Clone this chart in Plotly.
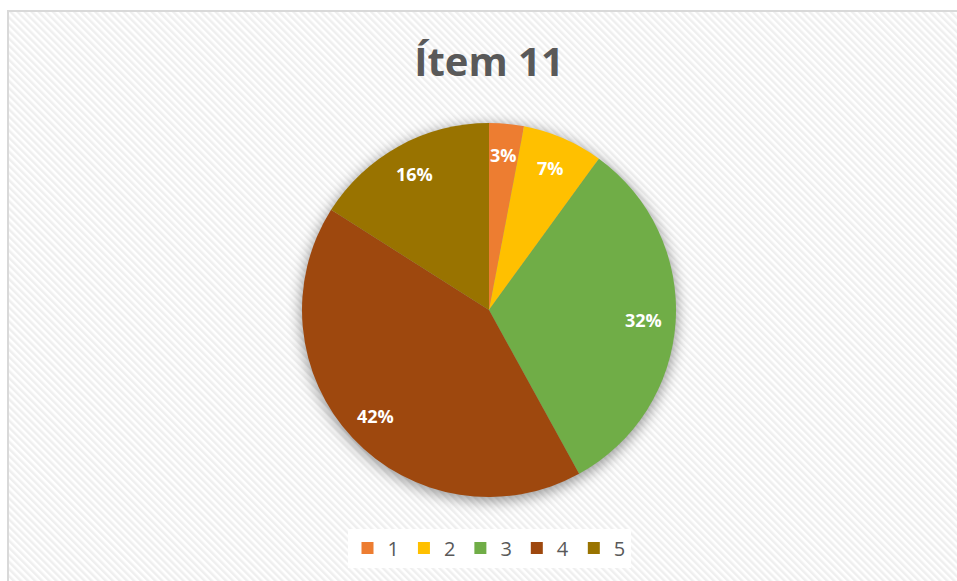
import base64
import math
import plotly.graph_objects as go

# Data
categories = ["1", "2", "3", "4", "5"]
values = [3, 7, 32, 42, 16]
colors = ["#ED7D31", "#FFC000", "#70AD47", "#9E480E", "#997300"]
title_text = "Ítem 11"

W, H = 957, 581
cx, cy, r = 489, 310, 187

# Hatched background
hatch_svg = f"""<svg xmlns='http://www.w3.org/2000/svg' width='{W-8}' height='{H-11}'>
<defs><pattern id='p' width='5' height='5' patternUnits='userSpaceOnUse' patternTransform='rotate(-45)'>
<rect width='5' height='5' fill='#ffffff'/><rect width='2.5' height='5' fill='#efefef'/></pattern></defs>
<rect width='100%' height='100%' fill='url(#p)'/>
</svg>"""
hatch_uri = "data:image/svg+xml;base64," + base64.b64encode(hatch_svg.encode()).decode()

shadow_svg = f"""<svg xmlns='http://www.w3.org/2000/svg' width='{W}' height='{H}'>
<defs><filter id='b' x='-50%' y='-50%' width='200%' height='200%'><feGaussianBlur stdDeviation='7'/></filter></defs>
<circle cx='{cx}' cy='{cy+3}' r='{r+1}' fill='rgba(0,0,0,0.4)' filter='url(#b)'/>
</svg>"""
shadow_uri = "data:image/svg+xml;base64," + base64.b64encode(shadow_svg.encode()).decode()

fig = go.Figure(go.Pie(
    labels=categories,
    values=values,
    marker=dict(colors=colors, line=dict(width=0)),
    sort=False,
    direction="clockwise",
    rotation=0,
    textinfo="none",
    domain=dict(x=[(cx - r) / W, (cx + r) / W], y=[(H - cy - r) / H, (H - cy + r) / H]),
    hoverinfo="label+percent",
))

# Data labels placed along each slice's mid-angle (derived from values)
total = sum(values)
annotations = []
cum = 0
for v in values:
    mid = (cum + v / 2) / total * 2 * math.pi
    cum += v
    rr = 0.83 * r
    px = cx + rr * math.sin(mid)
    py = cy - rr * math.cos(mid)
    annotations.append(dict(
        x=px / W, y=1 - py / H, xref="paper", yref="paper", showarrow=False,
        text=f"{round(v / total * 100)}%",
        font=dict(family="Open Sans", size=18, color="white", weight="bold"),
        xanchor="center", yanchor="middle",
    ))

fig.update_layout(
    width=W, height=H,
    margin=dict(l=0, r=0, t=0, b=0),
    paper_bgcolor="white",
    plot_bgcolor="white",
    title=dict(text=title_text, x=cx / W, xanchor="center", y=1 - 62 / H, yanchor="middle",
               font=dict(family="Open Sans", size=40, color="#595959", weight="bold")),
    legend=dict(orientation="h", x=cx / W, xanchor="center", y=1 - 548 / H, yanchor="middle",
                font=dict(family="Open Sans", size=20, color="#595959"),
                bgcolor="white", itemwidth=30, traceorder="normal"),
    annotations=annotations,
    images=[
        dict(source=hatch_uri, xref="paper", yref="paper", x=8 / W, y=1 - 11 / H,
             sizex=1 - 8 / W, sizey=1 - 11 / H, sizing="stretch", xanchor="left", yanchor="top", layer="below"),
        dict(source=shadow_uri, xref="paper", yref="paper", x=0, y=1,
             sizex=1, sizey=1, sizing="stretch", xanchor="left", yanchor="top", layer="below"),
    ],
    shapes=[dict(type="rect", xref="paper", yref="paper", x0=8 / W, y0=-0.05, x1=1.05, y1=1 - 11 / H,
                 line=dict(color="#d9d9d9", width=2), fillcolor="rgba(0,0,0,0)", layer="above")],
)

fig.write_html("out.html", config={"displayModeBar": False},
               post_script="document.body.style.margin='0px';")
